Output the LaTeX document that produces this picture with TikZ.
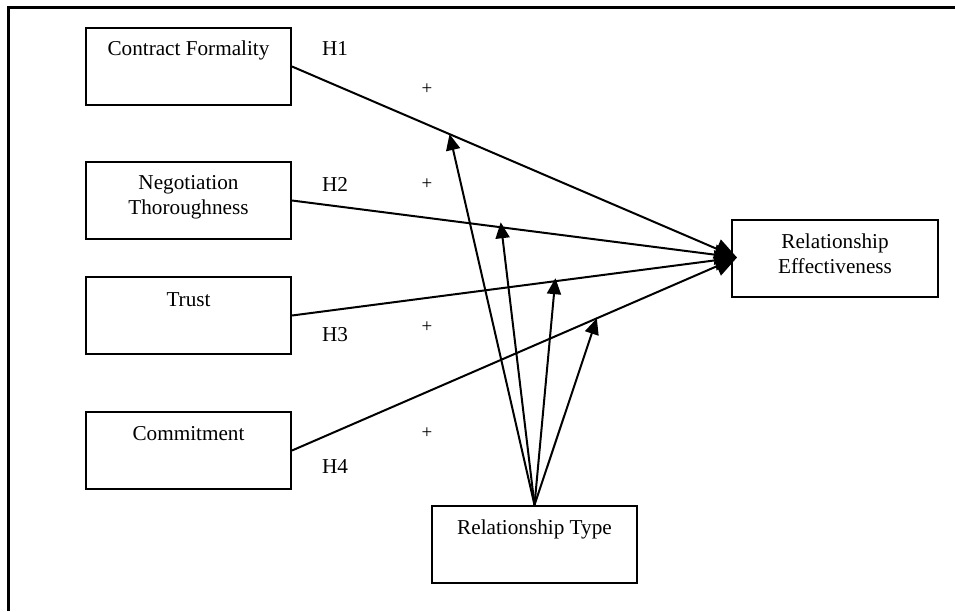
\documentclass[tikz,border=0pt]{standalone}
\usepackage{fontspec}
\setmainfont{Liberation Serif}
\usetikzlibrary{arrows.meta,calc}
\begin{document}
\begin{tikzpicture}[x=1pt,y=-1pt,
  box/.style={draw,line width=2pt,minimum width=205pt,minimum height=77pt,inner sep=0pt},
  txt/.style={font=\fontsize{21.2}{25}\selectfont,align=center,inner sep=0pt},
  lbl/.style={font=\fontsize{21.2}{25}\selectfont,inner sep=0pt},
  plus/.style={font=\fontsize{19}{22}\selectfont,inner sep=0pt},
  conn/.style={line width=2pt},
  main/.style={conn,-{Triangle[length=22pt,width=20pt]}},
  modarrow/.style={conn,-{Triangle[length=16pt,width=14pt]}}]
\useasboundingbox (0,0) rectangle (955,611);
% frame (top and left only)
\draw[line width=2.4pt] (955,7.5) -- (8.5,7.5) -- (8.5,611);
% boxes
\node[box] (cf) at (188.5,66.5) {};
\node[box] (nt) at (188.5,200.5) {};
\node[box] (tr) at (188.5,315.5) {};
\node[box] (cm) at (188.5,450.5) {};
\node[box] (rt) at (534.5,544.5) {};
\node[box,minimum width=206pt] (re) at (835,258.5) {};
% texts
\node[txt] (cft) at (188.5,50) {Contract Formality};
\node[txt] (ntt) at (188.5,197) {Negotiation\\Thoroughness};
\node[txt] (trt) at (188.5,300) {Trust};
\node[txt] (cmt) at (188.5,434) {Commitment};
\node[txt] (rtt) at (534.5,529) {Relationship Type};
\node[txt] (ret) at (835,254) {Relationship\\Effectiveness};
% hypothesis labels
\node[lbl] (h1) at (335,48) {H1};
\node[lbl] (h2) at (335,184) {H2};
\node[lbl] (h3) at (335,335) {H3};
\node[lbl] (h4) at (335,467) {H4};
\node[plus] (p1) at (427,89) {+};
\node[plus] (p2) at (427,184) {+};
\node[plus] (p3) at (427,327) {+};
\node[plus] (p4) at (427,433) {+};
% main paths
\coordinate (tip) at ($(re.west)+(6,-1)$);
\draw[main] (cf.east) -- (tip);
\draw[main] (nt.east) -- (tip);
\draw[main] (tr.east) -- (tip);
\draw[main] (cm.east) -- (tip);
% moderation points
\coordinate (m1) at ($(cf.east)!0.354!(tip)$);
\coordinate (m2) at ($(nt.east)!0.469!(tip)+(0,-5)$);
\coordinate (m3) at ($(tr.east)!0.592!(tip)+(0,-3)$);
\coordinate (m4) at ($(cm.east)!0.685!(tip)$);
\foreach \m in {m1,m2,m3,m4}
  \draw[modarrow] (rt.north) -- (\m);
\end{tikzpicture}
\end{document}
